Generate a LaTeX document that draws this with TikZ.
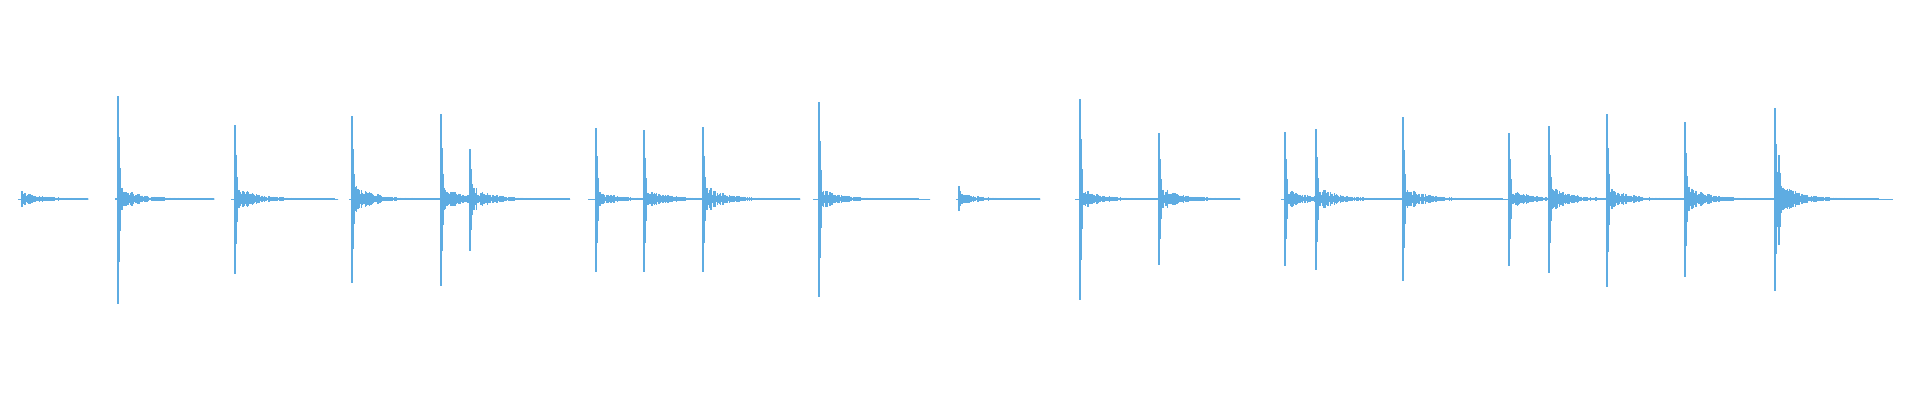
\documentclass[tikz,border=0pt]{standalone}
\definecolor{wavecolor}{RGB}{94,172,226}
\tikzset{
  %% wave : one vertical stroke of the trace
  wave/.style={wavecolor, line width=0.4pt},
  %% base : the flat trace between hits
  base/.style={wavecolor, line width=0.25pt}
}
% hit: x, top, bottom, coda amplitude
\newcommand\hit[4]{%
  \draw[wave] (#1,#2) -- (#1,#3);
  \draw[wave] ({#1+1.2},{199-0.6*(199-#2)}) -- ({#1+1.2},{199+0.6*(#3-199)});
  \draw[wave] ({#1+2.4},{199-0.3*(199-#2)}) -- ({#1+2.4},{199+0.3*(#3-199)});
  \foreach \i in {0,...,120}{
    \pgfmathsetmacro\a{#4*exp(-\i/24)*(0.3+0.7*rnd)+0.5}
    \draw[wave] ({#1+3+\i*0.8},{199-\a}) -- ({#1+3+\i*0.8},{199+\a});
  }
}
\begin{document}
\begin{tikzpicture}[x=0.01cm, y=-0.01cm]
  \pgfmathsetseed{7}
  \useasboundingbox (0,0) rectangle (1920,400);

  \begin{scope}
  %% only inside the recorded stretches
  \clip (18,0) rectangle (88,400)   (115,0) rectangle (214,400)
        (231,0) rectangle (338,400) (349,0) rectangle (570,400)
        (588,0) rectangle (800,400) (813,0) rectangle (930,400)
        (956,0) rectangle (1040,400) (1075,0) rectangle (1240,400)
        (1281,0) rectangle (1893,400);

  %% flat trace
  \draw[base] (18,199) -- (1893,199);

  %% hits
  \hit{22}{191}{207}{6}
  \hit{118}{96}{304}{12}
  \hit{235}{125}{274}{12}
  \hit{352}{116}{283}{14}
  \hit{441}{114}{286}{12}
  \hit{470}{149}{251}{12}
  \hit{596}{128}{272}{7}
  \hit{644}{130}{272}{10}
  \hit{703}{127}{272}{13}
  \hit{819}{102}{297}{10}
  \hit{959}{186}{211}{5}
  \hit{1080}{99}{300}{9}
  \hit{1159}{133}{265}{12}
  \hit{1285}{132}{266}{10}
  \hit{1316}{129}{270}{12}
  \hit{1403}{117}{281}{12}
  \hit{1509}{133}{266}{9}
  \hit{1549}{126}{273}{12}
  \hit{1607}{114}{287}{11}
  \hit{1685}{122}{277}{13}
  \hit{1775}{108}{291}{18}
  \hit{1779}{155}{245}{14}
  \end{scope}
\end{tikzpicture}
\end{document}
